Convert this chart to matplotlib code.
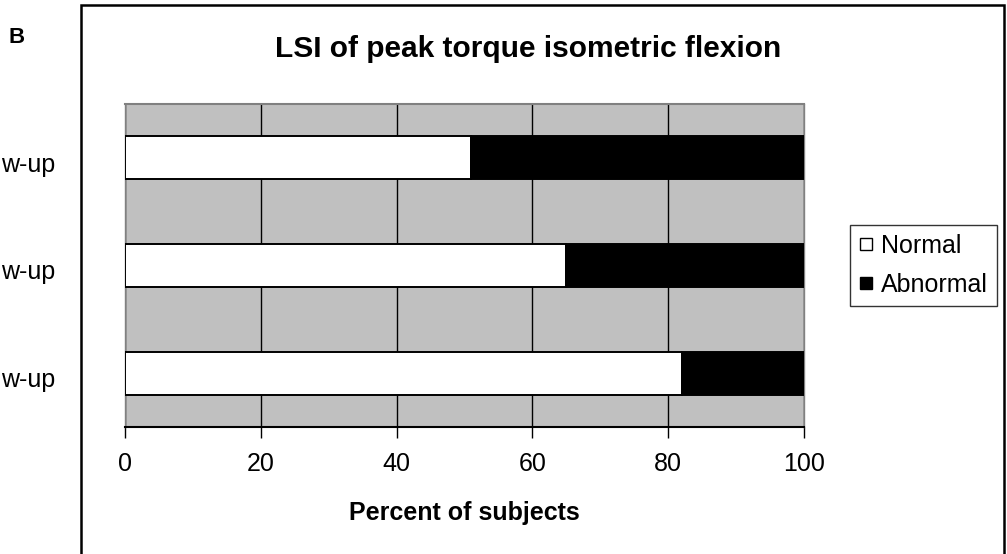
import matplotlib
matplotlib.use("Agg")
import matplotlib.pyplot as plt
from matplotlib.patches import Rectangle
from matplotlib.lines import Line2D

plt.rcParams['font.family'] = ['Liberation Sans', 'DejaVu Sans']

categories = ["w-up", "w-up", "w-up"]
normal = [51, 65, 82]
abnormal = [49, 35, 18]
xticks = [0, 20, 40, 60, 80, 100]
title = "LSI of peak torque isometric flexion"
xlabel = "Percent of subjects"
panel = "B"

W, H = 1007, 554
fig = plt.figure(figsize=(W / 100, H / 100), dpi=100)
fig.patch.set_facecolor('white')

ax = fig.add_axes([125 / W, 1 - 427 / H, 679 / W, 323 / H])
ax.set_facecolor('#c0c0c0')
ypos = list(range(len(categories)))
ax.barh(ypos, normal, height=0.4, color='white', edgecolor='black', linewidth=1.4, zorder=3)
ax.barh(ypos, abnormal, left=normal, height=0.4, color='black', edgecolor='black', linewidth=1.4, zorder=3)
ax.set_xlim(0, 100)
ax.set_ylim(len(categories) - 0.5, -0.5)
ax.set_xticks(xticks)
ax.set_xticklabels([str(t) for t in xticks], fontsize=18)
ax.xaxis.grid(True, color='black', linewidth=1.0)
ax.set_axisbelow(True)
ax.tick_params(axis='x', length=8, width=1, pad=10, color='black')
ax.set_yticks([])
for s in ['left', 'right']:
    ax.spines[s].set_color('#808080')
    ax.spines[s].set_linewidth(1.0)
ax.spines['top'].set_color('#808080')
ax.spines['top'].set_linewidth(1.5)
ax.spines['bottom'].set_color('black')
ax.spines['bottom'].set_linewidth(1.5)

# category labels (cropped at the image edge)
for y, lab in zip(ypos, categories):
    ax.text(-125 / 679 * 100 + 0.1, y + 0.13, lab, transform=ax.transData, ha='left', va='baseline',
            fontsize=18, clip_on=False)

fig.text(528 / W, 1 - 57 / H, title, ha='center', va='baseline', fontsize=21.5, fontweight='bold')
fig.text(464.5 / W, 1 - 520 / H, xlabel, ha='center', va='baseline', fontsize=18, fontweight='bold')
fig.text(8 / W, 1 - 43 / H, panel, ha='left', va='baseline', fontsize=16, fontweight='bold')

# outer frame
frame = Rectangle((81 / W, -0.05), (1004 - 81) / W, (H - 5) / H + 0.05,
                  transform=fig.transFigure, fill=False, edgecolor='black', linewidth=1.8,
                  clip_on=False)
fig.patches.append(frame)

# legend
handles = [Line2D([], [], marker='s', linestyle='none', markersize=8.5, markerfacecolor='white',
                  markeredgecolor='black', markeredgewidth=1.0),
           Line2D([], [], marker='s', linestyle='none', markersize=8.5, markerfacecolor='black',
                  markeredgecolor='black', markeredgewidth=1.0)]
leg = fig.legend(handles, ["Normal", "Abnormal"], loc='center', bbox_to_anchor=(923.5 / W, 1 - 265.5 / H),
                 fontsize=18, frameon=True, fancybox=False, edgecolor='black', handlelength=0.6,
                 handletextpad=0.3, borderpad=0.35, labelspacing=0.6, borderaxespad=0)
leg.get_frame().set_linewidth(1.0)

fig.savefig("out.png", dpi=100, facecolor='white')
